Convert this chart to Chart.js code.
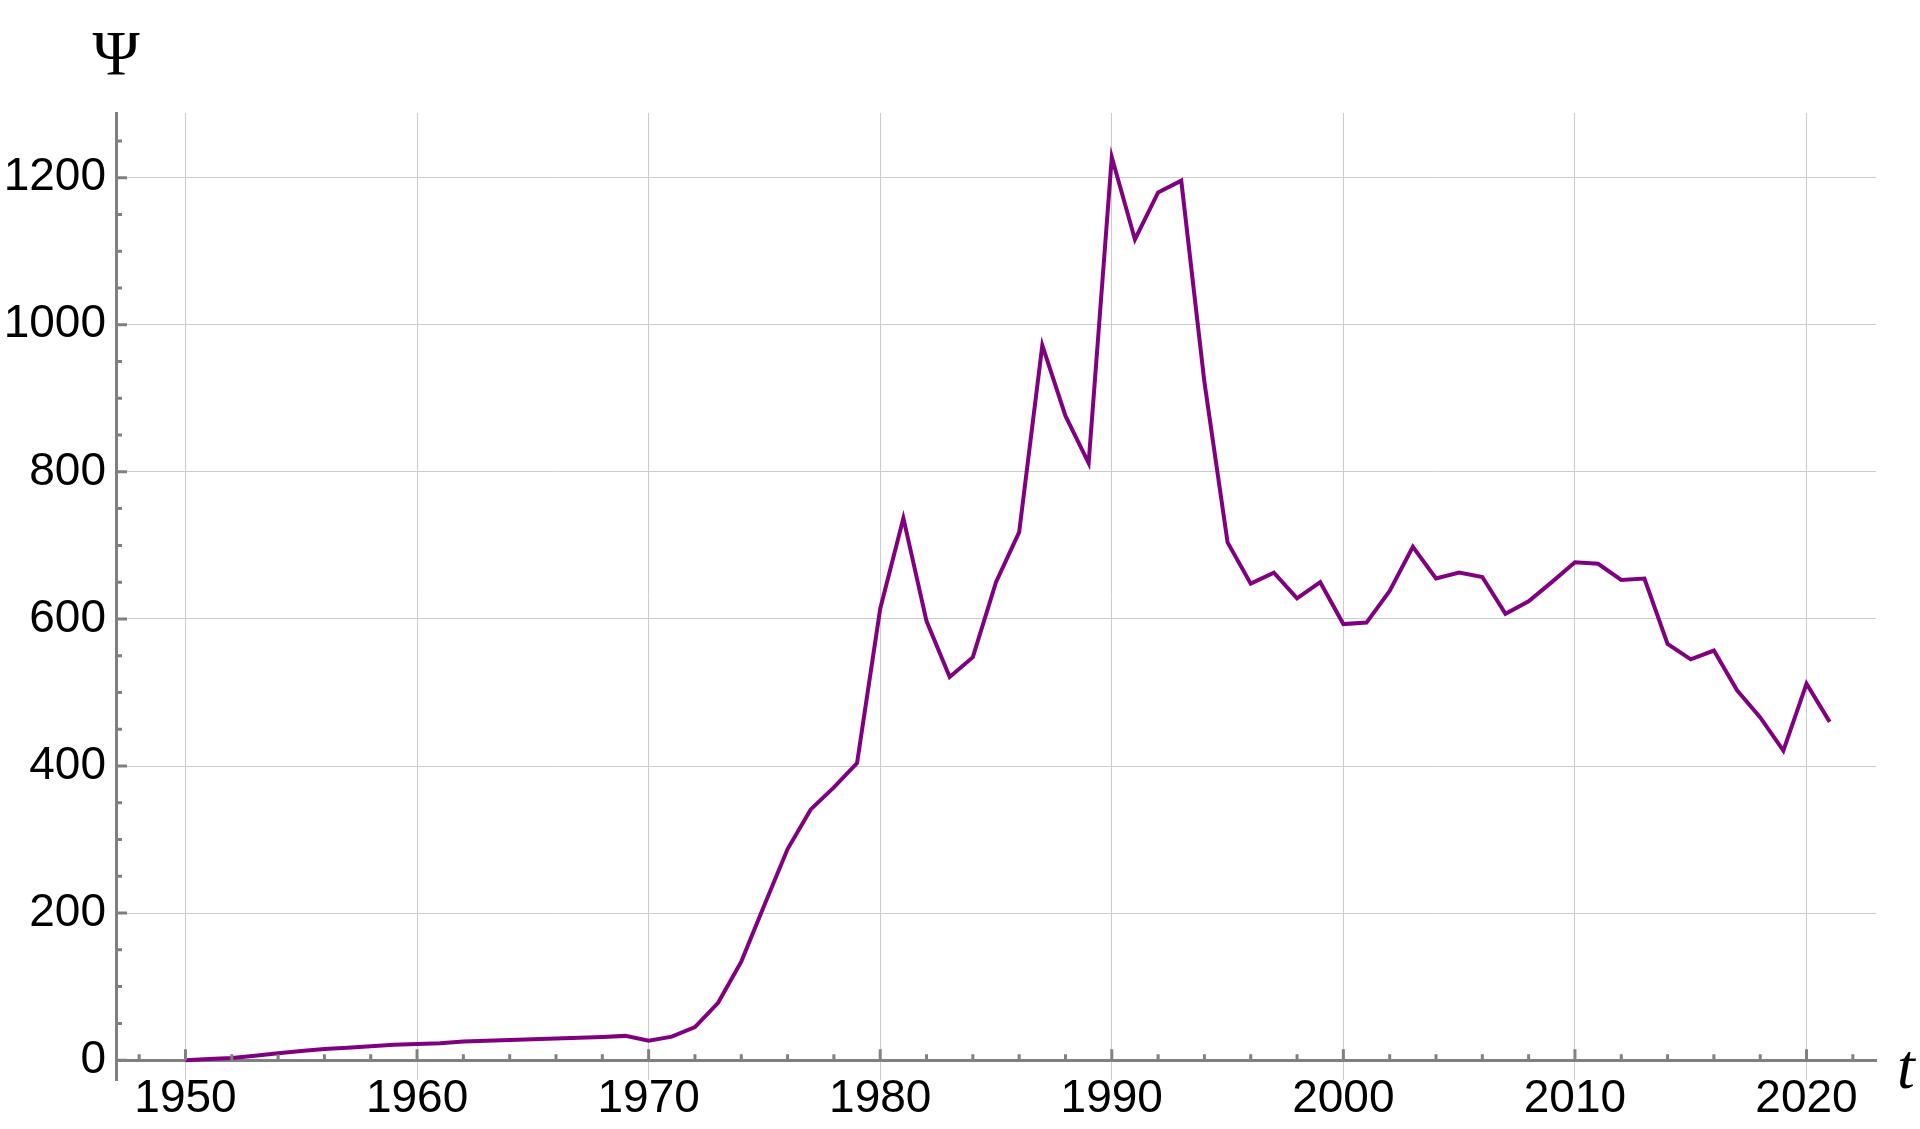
<!DOCTYPE html>
<html>
<head>
<meta charset="utf-8">
<script src="https://cdn.jsdelivr.net/npm/chart.js"></script>
<style>
  html, body { margin: 0; padding: 0; background: #fff; }
  canvas { display: block; }
</style>
</head>
<body>
<canvas id="psiChart" width="1920" height="1129"></canvas>
<script>
// years on the t axis
const years = [
  1950, 1951, 1952, 1953, 1954, 1955, 1956, 1957, 1958, 1959,
  1960, 1961, 1962, 1963, 1964, 1965, 1966, 1967, 1968, 1969,
  1970, 1971, 1972, 1973, 1974, 1975, 1976, 1977, 1978, 1979,
  1980, 1981, 1982, 1983, 1984, 1985, 1986, 1987, 1988, 1989,
  1990, 1991, 1992, 1993, 1994, 1995, 1996, 1997, 1998, 1999,
  2000, 2001, 2002, 2003, 2004, 2005, 2006, 2007, 2008, 2009,
  2010, 2011, 2012, 2013, 2014, 2015, 2016, 2017, 2018, 2019,
  2020, 2021
];

// Psi values
const psi = [
  0, 1.5, 3, 6, 9.5, 12.5, 15, 17, 19, 21,
  22, 23, 25.5, 26.5, 27.5, 28.5, 29.5, 30.5, 31.5, 33,
  26.5, 32, 45, 78, 134, 211, 287, 341, 371, 404,
  614, 737, 597, 521, 548, 650, 718, 972, 876, 812,
  1228, 1116, 1180, 1196, 922, 704, 648, 663, 628, 650,
  593, 595, 638, 698, 655, 663, 657, 607, 624, 650,
  677, 675, 653, 655, 566, 545, 557, 503, 466, 421,
  512, 460
];

// axis ticks
const xMajorTicks = [1950, 1960, 1970, 1980, 1990, 2000, 2010, 2020];
const xMinorTicks = [1948, 1952, 1954, 1956, 1958, 1962, 1964, 1966, 1968,
  1972, 1974, 1976, 1978, 1982, 1984, 1986, 1988, 1992, 1994, 1996, 1998,
  2002, 2004, 2006, 2008, 2012, 2014, 2016, 2018, 2022];
const yMajorTicks = [0, 200, 400, 600, 800, 1000, 1200];
const yMinorTicks = [50, 100, 150, 250, 300, 350, 450, 500, 550, 650, 700, 750,
  850, 900, 950, 1050, 1100, 1150, 1250];

const axisGray = '#808080';
const gridGray = '#cccccc';

// mathematica style inward ticks + the Psi / t labels
const axisDecor = {
  id: 'axisDecor',
  afterDraw(chart) {
    const ctx = chart.ctx;
    const xs = chart.scales.x, ys = chart.scales.y;
    const area = chart.chartArea;
    const y0 = ys.getPixelForValue(0);
    ctx.save();
    ctx.strokeStyle = axisGray;
    ctx.lineWidth = 3;
    ctx.beginPath();
    xMajorTicks.forEach(v => { const p = xs.getPixelForValue(v); ctx.moveTo(p, y0); ctx.lineTo(p, y0 - 11); });
    xMinorTicks.forEach(v => { const p = xs.getPixelForValue(v); ctx.moveTo(p, y0); ctx.lineTo(p, y0 - 6); });
    yMajorTicks.forEach(v => { const p = ys.getPixelForValue(v); ctx.moveTo(area.left, p); ctx.lineTo(area.left + 11, p); });
    yMinorTicks.forEach(v => { const p = ys.getPixelForValue(v); ctx.moveTo(area.left, p); ctx.lineTo(area.left + 6, p); });
    ctx.stroke();

    ctx.fillStyle = '#000';
    ctx.font = '64px "Liberation Serif", "DejaVu Serif", serif';
    ctx.textAlign = 'center';
    ctx.textBaseline = 'middle';
    ctx.fillText('Ψ', 116, 58);
    ctx.font = 'italic 64px "Liberation Serif", "DejaVu Serif", serif';
    ctx.textAlign = 'left';
    ctx.textBaseline = 'alphabetic';
    ctx.fillText('t', 1897, 1088);
    ctx.restore();
  }
};

const ctx = document.getElementById('psiChart').getContext('2d');
new Chart(ctx, {
  type: 'line',
  data: {
    labels: years,
    datasets: [{
      data: years.map((yr, i) => ({ x: yr, y: psi[i] })),
      borderColor: '#800080',
      borderWidth: 4,
      pointRadius: 0,
      tension: 0,
      fill: false
    }]
  },
  options: {
    responsive: false,
    animation: false,
    devicePixelRatio: 1,
    // x axis sits at y = 0, so it takes no layout room; bottom padding sets the plot bottom
    layout: { padding: { top: 113, right: 44, left: 0, bottom: 49 } },
    plugins: {
      legend: { display: false },
      tooltip: { enabled: false }
    },
    scales: {
      x: {
        type: 'linear',
        position: { y: 0 },
        min: 1947,
        max: 2023,
        grid: { color: gridGray, lineWidth: 1, drawTicks: false },
        border: { color: axisGray, width: 3 },
        ticks: {
          stepSize: 10,
          includeBounds: false,
          padding: 12,
          color: '#000',
          font: { family: '"Liberation Sans", Arial, sans-serif', size: 46 },
          callback: v => String(v)
        }
      },
      y: {
        type: 'linear',
        min: -27,
        max: 1288,
        afterFit: s => { s.width = 116; },
        grid: {
          color: c => (c.tick && c.tick.value === 0 ? 'rgba(0,0,0,0)' : gridGray),
          lineWidth: 1,
          drawTicks: false
        },
        border: { color: axisGray, width: 3 },
        ticks: {
          stepSize: 200,
          includeBounds: false,
          padding: 10,
          color: '#000',
          font: { family: '"Liberation Sans", Arial, sans-serif', size: 46 },
          callback: v => String(v)
        }
      }
    }
  },
  plugins: [axisDecor]
});
</script>
</body>
</html>
